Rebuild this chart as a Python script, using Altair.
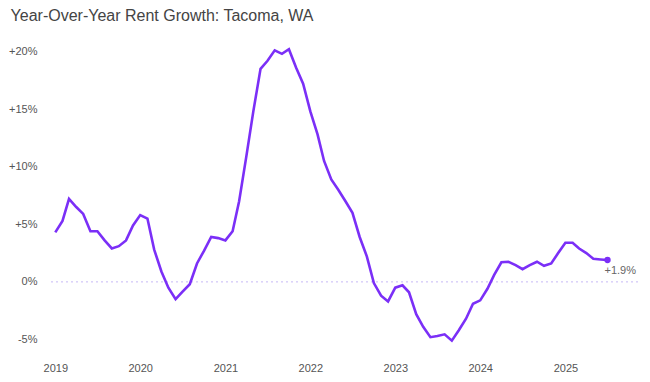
import altair as alt
import pandas as pd

# Year-over-year rent growth (%), monthly, Jan 2019 - Jul 2025
vals_2019 = [4.3, 5.3, 7.2, 6.5, 5.9, 4.4, 4.4, 3.6, 2.9, 3.1, 3.6, 4.9]
vals_2020 = [5.8, 5.5, 2.8, 0.9, -0.5, -1.5, -0.85, -0.2, 1.6, 2.7, 3.9, 3.8]
vals_2021 = [3.6, 4.4, 7.0, 10.9, 14.8, 18.5, 19.2, 20.1, 19.8, 20.2, 18.6, 17.2]
vals_2022 = [14.8, 12.8, 10.5, 8.9, 8.0, 7.0, 6.0, 3.9, 2.2, -0.1, -1.2, -1.7]
vals_2023 = [-0.5, -0.3, -0.9, -2.8, -3.9, -4.8, -4.7, -4.55, -5.1, -4.2, -3.2, -1.9]
vals_2024 = [-1.6, -0.6, 0.6, 1.7, 1.75, 1.45, 1.1, 1.45, 1.75, 1.4, 1.6, 2.5]
vals_2025 = [3.4, 3.4, 2.9, 2.5, 2.0, 1.95, 1.9]

values = vals_2019 + vals_2020 + vals_2021 + vals_2022 + vals_2023 + vals_2024 + vals_2025
dates = pd.date_range("2019-01-01", periods=len(values), freq="MS").strftime("%Y-%m-%d")

year_ticks = [2019, 2020, 2021, 2022, 2023, 2024, 2025]
y_ticks = [-5, 0, 5, 10, 15, 20]
end_label = "+1.9%"

PURPLE = "#7b2ff7"
FONT = "Liberation Sans"

df = pd.DataFrame({"date": list(dates), "yoy": values})
last = df.iloc[[-1]].assign(label=end_label)
zero = pd.DataFrame({"yoy": [0]})

x_enc = alt.X(
    "date:T",
    scale=alt.Scale(
        type="utc",
        domain=[alt.DateTime(year=2018, month=12, date=5, utc=True),
                alt.DateTime(year=2025, month=11, date=9, utc=True)],
    ),
    axis=alt.Axis(
        values=[alt.DateTime(year=y, month=1, date=1, utc=True) for y in year_ticks],
        format="%Y",
        title=None,
        labelPadding=11,
    ),
)
y_enc = alt.Y(
    "yoy:Q",
    scale=alt.Scale(domain=[-6, 21], nice=False, zero=False),
    axis=alt.Axis(
        values=y_ticks,
        labelExpr="datum.value > 0 ? '+' + datum.value + '%' : datum.value + '%'",
        title=None,
        labelPadding=12,
    ),
)

rule = alt.Chart(zero).mark_rule(color="#c6b8f5", strokeWidth=1, strokeDash=[2, 3]).encode(
    y=alt.Y("yoy:Q")
)
line = alt.Chart(df).mark_line(color=PURPLE, strokeWidth=2.6).encode(x=x_enc, y=y_enc)
point = alt.Chart(last).mark_circle(color=PURPLE, size=40, opacity=1).encode(x="date:T", y="yoy:Q")
text = alt.Chart(last).mark_text(
    align="left", baseline="middle", dx=-3, dy=11, fontSize=11, font=FONT, color="#666666"
).encode(x="date:T", y="yoy:Q", text="label:N")

chart = (
    alt.layer(rule, line, point, text)
    .properties(
        width=589,
        height=311,
        padding={"left": 0, "top": 0, "right": 0, "bottom": 0},
        title=alt.TitleParams(
            "Year-Over-Year Rent Growth: Tacoma, WA",
            anchor="start",
            frame="bounds",
            fontSize=16,
            font=FONT,
            fontWeight="normal",
            color="#444444",
            offset=16,
            dx=2,
        ),
    )
    .configure_view(stroke=None)
    .configure_axis(
        grid=False,
        domain=False,
        ticks=False,
        labelFont=FONT,
        labelFontSize=11,
        labelColor="#555555",
    )
)

chart.save("out.html", embed_options={"renderer": "svg", "actions": False})
